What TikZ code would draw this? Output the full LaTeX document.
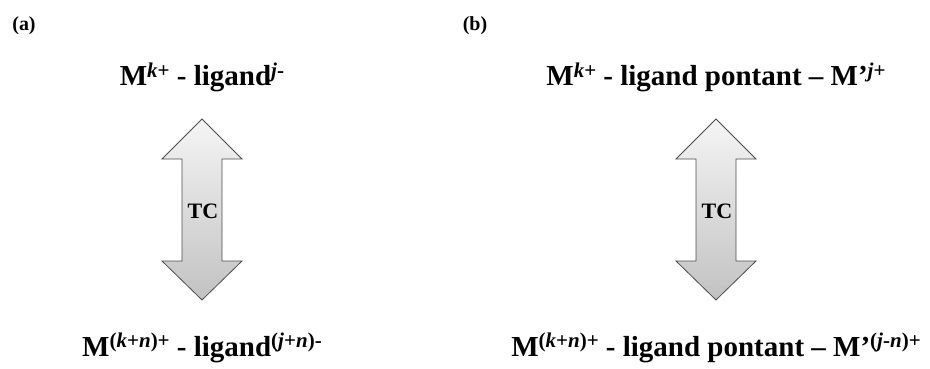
\documentclass[tikz,border=0pt]{standalone}
\usepackage{fontspec}
\setmainfont{Liberation Serif}
\usepackage{tikz}
\usetikzlibrary{positioning}

% charge written as a raised exponent
\newcommand{\chg}[1]{\raisebox{9pt}{\fontsize{21}{21}\selectfont #1}}

\begin{document}
\begin{tikzpicture}[
  x=1pt, y=-1pt,
  font=\fontsize{29}{34}\selectfont\bfseries,
  formula/.style={anchor=base, inner sep=0pt},
  panel/.style={font=\fontsize{20}{22}\selectfont\bfseries, inner sep=0pt},
  tcarrow/.style={draw=gray!60!black, line width=0.8pt, line join=miter,
    top color=gray!8, bottom color=gray!48}
]
\useasboundingbox (0,0) rectangle (930,369);

% Panel letters
\node[panel] (labA) at (24,26) {(a)};
\node[panel] (labB) at (475,26) {(b)};

% (a) simple metal - ligand pair
\node[formula] (topA) at (202,86) {M\chg{\textit{k}+} - ligand\chg{\textit{j}-}};
\node[formula] (botA) at (202,356) {M\chg{(\textit{k}+\textit{n})+} - ligand\chg{(\textit{j}+\textit{n})-}};

% (b) bridged pair
\node[formula] (topB) at (716,86) {M\chg{\textit{k}+} - ligand pontant -- M'\chg{\textit{j}+}};
\node[formula] (botB) at (716,356) {M\chg{(\textit{k}+\textit{n})+} - ligand pontant -- M'\chg{(\textit{j}-\textit{n})+}};

% Double arrows (charge transfer)
\path[tcarrow] (202,119) -- (242,159) -- (222,159) -- (222,261) -- (242,261) -- (202,300)
  -- (162,261) -- (182,261) -- (182,159) -- (162,159) -- cycle;
\node[font=\fontsize{22}{24}\selectfont\bfseries] (tcA) at (203,211) {TC};

\path[tcarrow] (716,119) -- (756,159) -- (736,159) -- (736,261) -- (756,261) -- (716,300)
  -- (676,261) -- (696,261) -- (696,159) -- (676,159) -- cycle;
\node[font=\fontsize{22}{24}\selectfont\bfseries] (tcB) at (717,211) {TC};

\end{tikzpicture}
\end{document}
